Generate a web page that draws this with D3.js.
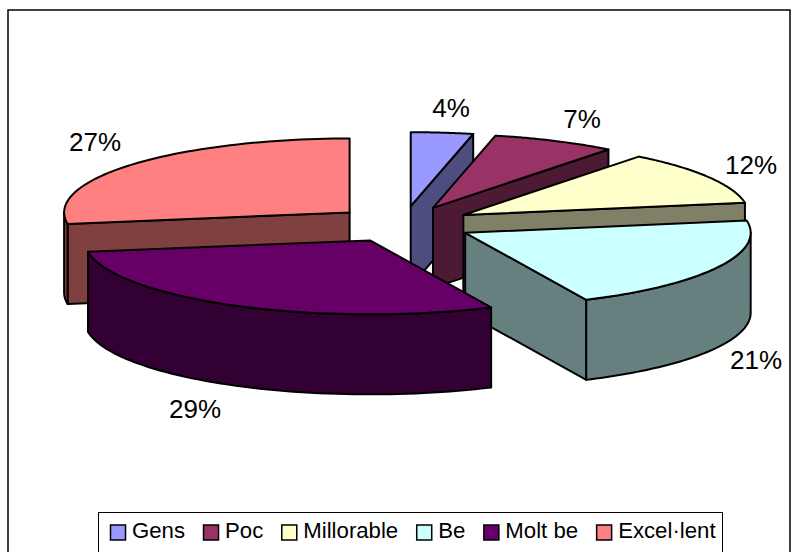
<!DOCTYPE html>
<html><head><meta charset="utf-8">
<script src="https://cdn.jsdelivr.net/npm/d3@7"></script>
<style>html,body{margin:0;padding:0;background:#fff;overflow:hidden}svg{display:block}text{font-family:"Liberation Sans",Arial,sans-serif;fill:#000}</style>
</head><body><svg id="c" width="795" height="552"></svg>
<script>
const categories = ["Gens","Poc","Millorable","Be","Molt be","Excel·lent"];
const values = [3.5,7.0,11.8,20.6,29.4,27.4];
const topColors = ["#9999FF","#993366","#FFFFCC","#CCFFFF","#660066","#FF8080"];
const sideColors = ["#4D4D80","#4D1A33","#808066","#668080","#330033","#804040"];
const labelXY = [[451,117],[582,128],[751,174],[756,369],[195,418],[95,151]];
const drawOrder = [5,0,1,2,3,4];

const svg = d3.select("#c");
const cx=403, cy=224.3, rx=285.5, ry=74, depth=80, explode=0.246;
const xs = d3.scaleLinear().domain([-1,1]).range([cx-rx,cx+rx]);
const ys = d3.scaleLinear().domain([-1,1]).range([cy+ry,cy-ry]);
const total = d3.sum(values);
const arcs = d3.pie().sort(null).value(d=>d).startAngle(0).endAngle(2*Math.PI)(values);
const line = d3.line().curve(d3.curveLinear);

svg.append("rect").attr("x",8).attr("y",10).attr("width",782).attr("height",600)
  .attr("fill","#fff").attr("stroke","#000").attr("stroke-width",1.5);

function pt(a,r,m,dz){
  return [xs(explode*Math.sin(m)+r*Math.sin(a)), ys(explode*Math.cos(m)+r*Math.cos(a))+dz];
}
const style = (s,fill)=>s.attr("fill",fill).attr("stroke","#000").attr("stroke-width",2).attr("stroke-linejoin","round");
drawOrder.forEach(i=>{
  const d=arcs[i], a0=d.startAngle, a1=d.endAngle, m=(a0+a1)/2;
  const g=svg.append("g");
  const steps=a=>d3.range(0,61).map(k=>a[0]+(a[1]-a[0])*k/60);
  const tip=pt(0,0,m,0), tipB=pt(0,0,m,depth);
  if(a1<Math.PI){
    style(g.append("path"),sideColors[i]).attr("d",line([tip,pt(a1,1,m,0),pt(a1,1,m,depth),tipB])+"Z");
  }
  if(a0>Math.PI){
    style(g.append("path"),sideColors[i]).attr("d",line([tip,pt(a0,1,m,0),pt(a0,1,m,depth),tipB])+"Z");
  }
  const w0=Math.max(a0,Math.PI/2), w1=Math.min(a1,3*Math.PI/2);
  if(w1>w0){
    const as=steps([w0,w1]);
    const pts=as.map(a=>pt(a,1,m,0)).concat(as.slice().reverse().map(a=>pt(a,1,m,depth)));
    style(g.append("path"),sideColors[i]).attr("d",line(pts)+"Z");
  }
  const pts=[tip].concat(steps([a0,a1]).map(a=>pt(a,1,m,0)));
  style(g.append("path"),topColors[i]).attr("d",line(pts)+"Z");
});

svg.selectAll("text.pct").data(values).join("text").attr("class","pct")
  .attr("x",(d,i)=>labelXY[i][0]).attr("y",(d,i)=>labelXY[i][1])
  .attr("text-anchor","middle").attr("font-size",26)
  .text(d=>Math.round(d/total*100)+"%");

svg.append("rect").attr("x",98.5).attr("y",512.5).attr("width",624).attr("height",60)
  .attr("fill","#fff").attr("stroke","#000").attr("stroke-width",1);
let lx=110.5;
categories.forEach((c,i)=>{
  svg.append("rect").attr("x",lx).attr("y",525).attr("width",15).attr("height",15)
    .attr("fill",topColors[i]).attr("stroke","#000").attr("stroke-width",1.5);
  const t=svg.append("text").attr("x",lx+21.5).attr("y",538).attr("font-size",22.2).text(c);
  lx+=21.5+t.node().getComputedTextLength()+18.5;
});
</script></body></html>
